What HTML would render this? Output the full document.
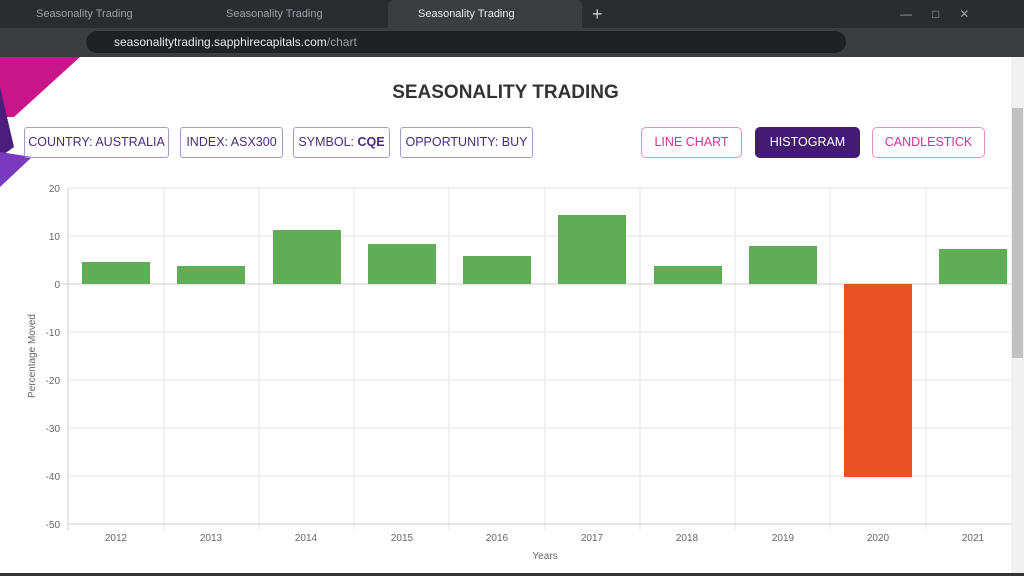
<!DOCTYPE html><html><head><style>
body{margin:0;width:1024px;height:576px;overflow:hidden;background:#fff;font-family:"Liberation Sans",sans-serif;position:relative}
.tabs{position:absolute;left:0;top:0;width:1024px;height:28px;background:#2b2c2f}
.tab{position:absolute;top:0;height:28px;color:#9aa0a6;font-size:11px;line-height:28px}
.addr{position:absolute;top:28px;left:0;width:1024px;height:29px;background:#3c3d41}
.url{position:absolute;left:86px;top:3px;width:760px;height:22px;border-radius:11px;background:#202124;color:#e8eaed;font-size:12px;line-height:22px;padding-left:28px;box-sizing:border-box}
.btn{position:absolute;top:127px;height:31px;box-sizing:border-box;border:1px solid #a79cc9;border-radius:3px;color:#4a2a7a;font-size:12.5px;line-height:29px;text-align:center;white-space:nowrap}
.pb{border-color:#ee8ccc;color:#d32f97;border-radius:5px}
</style></head><body>
<div class="tabs">
<div class="tab" style="left:36px">Seasonality Trading</div><div class="tab" style="left:226px">Seasonality Trading</div>
<div style="position:absolute;left:388px;top:0;width:194px;height:28px;background:#3c3d41;border-radius:6px 6px 0 0"></div>
<div class="tab" style="left:418px;color:#e8eaed">Seasonality Trading</div>
<div class="tab" style="left:592px;font-size:18px;color:#ccc">+</div>
<div class="tab" style="left:900px;font-size:12px">&#8212;&nbsp;&nbsp;&nbsp;&nbsp;&nbsp;&nbsp;&#9633;&nbsp;&nbsp;&nbsp;&nbsp;&nbsp;&nbsp;&#10005;</div>
</div>
<div class="addr"><div class="url">seasonalitytrading.sapphirecapitals.com<span style="color:#9aa0a6">/chart</span></div></div>
<svg style="position:absolute;left:0;top:57px" width="90" height="135"><polygon points="0,0 80,0 14,60 0,60" fill="#c8168a"/><polygon points="0,30 14,90 0,100" fill="#4a1e7a"/><polygon points="0,95 32,100 0,130" fill="#7a3ac0"/></svg>
<div style="position:absolute;left:0;width:1011px;top:82px;text-align:center;font-weight:bold;font-size:19px;color:#333">SEASONALITY TRADING</div>
<div class="btn" style="left:24px;width:145px">COUNTRY: AUSTRALIA</div>
<div class="btn" style="left:180px;width:103px">INDEX: ASX300</div>
<div class="btn" style="left:293px;width:97px">SYMBOL: <b>CQE</b></div>
<div class="btn" style="left:400px;width:133px">OPPORTUNITY: BUY</div>
<div class="btn pb" style="left:641px;width:101px">LINE CHART</div>
<div class="btn" style="left:755px;width:105px;background:#431b73;border-color:#431b73;color:#fff;border-radius:5px">HISTOGRAM</div>
<div class="btn pb" style="left:872px;width:113px">CANDLESTICK</div>
<svg style="position:absolute;left:0;top:0" width="1011" height="576" font-size="10" fill="#666">
<g stroke="#e6e6e6">
<line x1="68" x2="1011" y1="188" y2="188"/><line x1="68" x2="1011" y1="236" y2="236"/><line x1="68" x2="1011" y1="332" y2="332"/><line x1="68" x2="1011" y1="380" y2="380"/><line x1="68" x2="1011" y1="428" y2="428"/><line x1="68" x2="1011" y1="476" y2="476"/>
<line x1="164" x2="164" y1="188" y2="530"/><line x1="259" x2="259" y1="188" y2="530"/><line x1="354" x2="354" y1="188" y2="530"/><line x1="449" x2="449" y1="188" y2="530"/><line x1="545" x2="545" y1="188" y2="530"/><line x1="640" x2="640" y1="188" y2="530"/><line x1="735" x2="735" y1="188" y2="530"/><line x1="830" x2="830" y1="188" y2="530"/><line x1="926" x2="926" y1="188" y2="530"/>
</g>
<line x1="62" x2="1011" y1="284" y2="284" stroke="#ccc"/>
<line x1="68" x2="1011" y1="524" y2="524" stroke="#ccc"/>
<line x1="68" x2="68" y1="188" y2="530" stroke="#ccc"/>
<g text-anchor="end"><text x="60" y="192">20</text><text x="60" y="240">10</text><text x="60" y="288">0</text><text x="60" y="336">-10</text><text x="60" y="384">-20</text><text x="60" y="432">-30</text><text x="60" y="480">-40</text><text x="60" y="528">-50</text></g>
<g fill="#5fad56">
<rect x="82" y="262" width="68" height="22"/><rect x="177" y="266" width="68" height="18"/><rect x="273" y="230" width="68" height="54"/><rect x="368" y="244" width="68" height="40"/><rect x="463" y="256" width="68" height="28"/><rect x="558" y="215" width="68" height="69"/><rect x="654" y="266" width="68" height="18"/><rect x="749" y="246" width="68" height="38"/><rect x="939" y="249" width="68" height="35"/>
</g>
<rect x="844" y="284" width="68" height="193" fill="#ea5226"/>
<g text-anchor="middle"><text x="116" y="541">2012</text><text x="211" y="541">2013</text><text x="306" y="541">2014</text><text x="402" y="541">2015</text><text x="497" y="541">2016</text><text x="592" y="541">2017</text><text x="687" y="541">2018</text><text x="783" y="541">2019</text><text x="878" y="541">2020</text><text x="973" y="541">2021</text>
<text x="545" y="559">Years</text>
<text transform="translate(35,356) rotate(-90)">Percentage Moved</text></g>
</svg>
<div style="position:absolute;left:1011px;top:57px;width:13px;height:519px;background:#f1f1f1"></div>
<div style="position:absolute;left:1012px;top:108px;width:11px;height:250px;background:#c1c1c1"></div>
<div style="position:absolute;left:0;top:573px;width:1024px;height:3px;background:#333"></div>
</body></html>
